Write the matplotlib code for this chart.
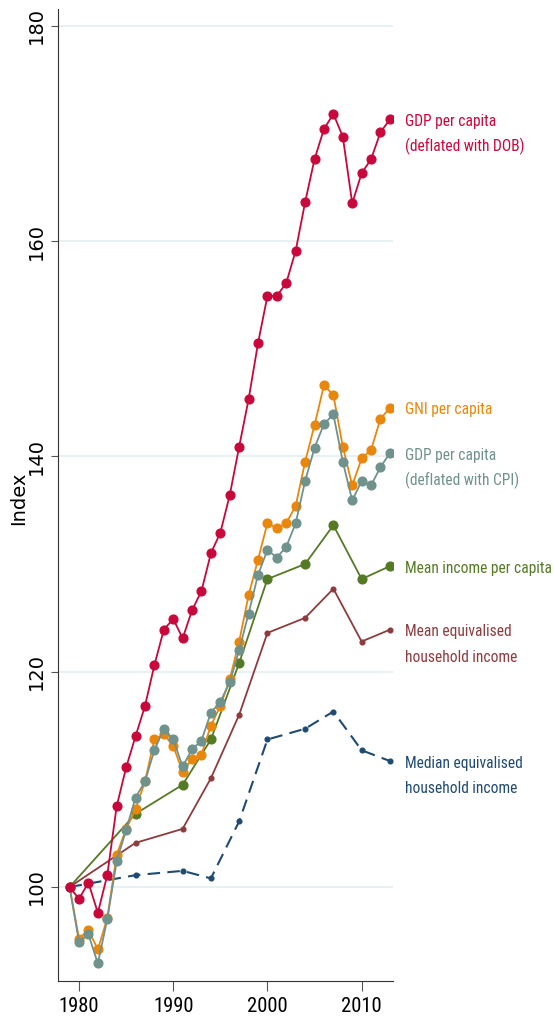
import numpy as np
import matplotlib
matplotlib.use("Agg")
import matplotlib.pyplot as plt
from matplotlib import font_manager as fm
from matplotlib.textpath import TextPath

# annual series, index 1979 = 100
years = list(range(1979, 2014))
gdp_dob = [100.0, 98.9, 100.4, 97.6, 101.1, 107.5, 111.1, 114.0, 116.8, 120.6,
           123.9, 124.9, 123.1, 125.7, 127.5, 131.0, 132.9, 136.4, 140.9, 145.3,
           150.5, 154.9, 154.9, 156.1, 159.1, 163.6, 167.6, 170.4, 171.8, 169.7,
           163.5, 166.3, 167.6, 170.1, 171.3]
gni = [100.0, 95.2, 96.0, 94.2, 97.1, 103.0, 105.4, 107.2, 109.8, 113.7,
       114.2, 113.1, 110.7, 111.9, 112.3, 115.0, 116.8, 119.3, 122.8, 127.1,
       130.4, 133.8, 133.3, 133.8, 135.4, 139.5, 142.9, 146.6, 145.7, 140.9,
       137.3, 139.8, 140.6, 143.5, 144.5]
gdp_cpi = [100.0, 94.9, 95.6, 92.9, 97.0, 102.4, 105.3, 108.3, 109.8, 112.7,
           114.7, 113.7, 111.2, 112.8, 113.6, 116.2, 117.2, 119.0, 122.0, 125.4,
           129.0, 131.3, 130.6, 131.6, 133.8, 137.7, 140.8, 143.0, 143.9, 139.5,
           135.9, 137.7, 137.3, 139.0, 140.3]

# survey years
survey_years = [1979, 1986, 1991, 1994, 1997, 2000, 2004, 2007, 2010, 2013]
mean_income = [100.0, 106.8, 109.5, 113.7, 120.8, 128.6, 130.0, 133.6, 128.6, 129.8]
mean_equiv = [100.0, 104.1, 105.4, 110.1, 116.0, 123.6, 125.0, 127.7, 122.8, 123.9]
median_equiv = [100.0, 101.1, 101.5, 100.8, 106.1, 113.7, 114.7, 116.3, 112.7, 111.7]

labels = {
    "dob": "GDP per capita\n(deflated with DOB)",
    "gni": "GNI per capita",
    "cpi": "GDP per capita\n(deflated with CPI)",
    "mean": "Mean income per capita",
    "equiv": "Mean equivalised\nhousehold income",
    "median": "Median equivalised\nhousehold income",
}

c_red = "#c8073a"
c_orange = "#e8870c"
c_gray = "#6f928c"
c_green = "#557a25"
c_brown = "#8e3b3e"
c_navy = "#1f4a72"


# look for a narrow/condensed regular face, the reference text is squeezed
def narrow_font():
    wanted = ["LiberationSansNarrow-Regular", "ArialNarrow", "NotoSans-Condensed.",
              "NotoSans-CondensedRegular", "RobotoCondensed-Regular",
              "Roboto_Condensed-Regular", "OpenSans-CondensedRegular",
              "OpenSans_Condensed-Regular", "DejaVuSansCondensed.",
              "NotoSans-SemiCondensed."]
    files = [f.fname for f in fm.fontManager.ttflist]
    for w in wanted:
        for fn in files:
            if w.lower() in fn.replace(" ", "").lower():
                return fm.FontProperties(fname=fn)
    return fm.FontProperties(family="Liberation Sans")


def size_for(text, prop, width_px):
    # font size (pt) so that text is about width_px wide at 100 dpi
    w = TextPath((0, 0), text, size=10, prop=prop).get_extents().width
    return 10 * (width_px * 0.72) / w


nfont = narrow_font()
lab_size = size_for("Mean income per capita", nfont, 145)
tick_size = size_for("1980", nfont, 38)

fig = plt.figure(figsize=(5.54, 10.21), dpi=100)
ax = fig.add_axes([0.1052, 0.0395, 0.6037, 0.9517])

ax.plot(survey_years, median_equiv, color=c_navy, lw=1.5, ls=(0, (6, 3.5)),
        marker="o", ms=3.4, zorder=3)
ax.plot(survey_years, mean_equiv, color=c_brown, lw=1.3, marker="o", ms=3.4, zorder=3)
ax.plot(survey_years, mean_income, color=c_green, lw=1.3, marker="o", ms=6.3, zorder=3)
ax.plot(years, gni, color=c_orange, lw=1.3, marker="o", ms=6.3, zorder=4)
ax.plot(years, gdp_cpi, color=c_gray, lw=1.3, marker="o", ms=6.3, zorder=4)
ax.plot(years, gdp_dob, color=c_red, lw=1.3, marker="o", ms=6.3, zorder=5)

ends = [("dob", gdp_dob[-1], c_red), ("gni", gni[-1], c_orange),
        ("cpi", gdp_cpi[-1], c_gray), ("mean", mean_income[-1], c_green),
        ("equiv", mean_equiv[-1], c_brown), ("median", median_equiv[-1], c_navy)]
for key, val, col in ends:
    for i, line in enumerate(labels[key].split("\n")):
        t = ax.annotate(line, xy=(2013, val), xytext=(11, -1.5 - i * 18.3),
                        textcoords="offset points", va="center", ha="left",
                        color=col, annotation_clip=False)
        t.set_fontproperties(nfont)
        t.set_fontsize(lab_size)

ax.set_xlim(1977.8, 2013.3)
ax.set_ylim(91.3, 181.55)
ax.set_xticks([1980, 1990, 2000, 2010])
ax.set_yticks([100, 120, 140, 160, 180])
ax.grid(axis="y", color="#e3edf0", lw=1.2)
ax.set_axisbelow(True)

for s in ["top", "right"]:
    ax.spines[s].set_visible(False)
for s in ["left", "bottom"]:
    ax.spines[s].set_color("#333333")
    ax.spines[s].set_linewidth(0.8)

ax.tick_params(axis="x", length=7, width=0.8, color="#555555", pad=5)
ax.tick_params(axis="y", length=5, width=0.8, color="#555555", pad=4, labelsize=14)
for t in ax.get_xticklabels():
    t.set_fontproperties(nfont)
    t.set_fontsize(tick_size)
for t in ax.get_yticklabels():
    t.set_rotation(90)
    t.set_va("center")
    t.set_family("DejaVu Sans")

ax.set_ylabel("Index", fontsize=14, family="DejaVu Sans")
ax.yaxis.set_label_coords(-0.09, 0.496)

fig.savefig("out.png", dpi=100)
